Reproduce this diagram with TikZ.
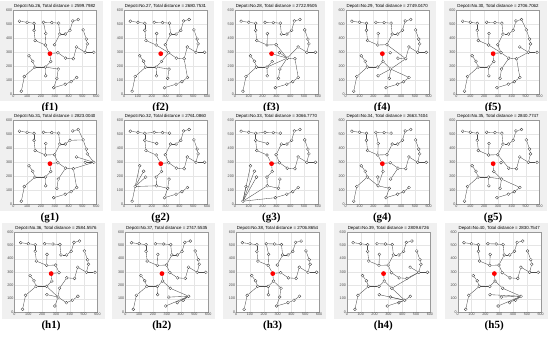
\documentclass[tikz,border=0pt]{standalone}
\usepackage{fontspec}
\setmainfont{Liberation Serif}
\setsansfont{Liberation Sans}

% customer positions (data units 0..600)
\newcommand{\custpts}{1/45/520,2/100/512,3/150/505,4/150/455,5/158/382,6/218/512,7/278/510,8/328/506,9/235/432,10/232/350,
 11/298/352,12/336/428,13/376/428,14/410/455,15/430/522,16/470/532,17/505/458,18/528/392,19/535/358,20/457/336,
 21/520/298,22/582/298,23/434/252,24/378/256,25/322/295,26/113/273,27/141/234,28/156/192,29/80/125,30/58/20,
 31/232/192,32/270/232,33/234/130,34/325/178,35/315/112,36/292/45,37/375/70,38/418/88,39/458/118}

\def\plotW{83}
\def\plotH{84}

% one panel: x, y of plot corner, depot no., distance, label, links
\newcommand{\plotpanel}[6]{%
  \begin{scope}[shift={(#1,#2)}]
    \fill[panelbg] (-13,-7) rectangle (\plotW+7,\plotH+9);
    \fill[white] (0,0) rectangle (\plotW,\plotH);
    \foreach \g in {1,...,5} {
      \draw[gridline] (\g*\plotW/6,0) -- ++(0,\plotH);
      \draw[gridline] (0,\g*\plotH/6) -- ++(\plotW,0);
    }
    \draw[axisbox] (0,0) rectangle (\plotW,\plotH);
    \foreach \t [count=\k from 0] in {0,100,...,600} {
      \node[ticklbl, below] at (\k*\plotW/6,0) {\t};
      \node[ticklbl, left] at (0,\k*\plotH/6) {\t};
    }
    \node[paneltitle] (title) at (\plotW/2,\plotH+4) {Depot=No.#3, Total distance = #4};
    \node[panellabel] (lbl) at (\plotW/2-5,-14) {(#5)};
    \pgfmathsetmacro\yu{\plotH/600}
    \begin{scope}[x=0.13833pt, y=\yu pt]
      \foreach \i/\px/\py in \custpts {\node[cust] (p\i) at (\px,\py) {};}
      \node[depot] (p0) at (265,288) {};
      \foreach \a/\b in {#6} {\draw[link] (p\a) -- (p\b);}
    \end{scope}
  \end{scope}}

\begin{document}
\begin{tikzpicture}[x=1pt, y=1pt,
  cust/.style={circle, draw=black!80, fill=white, line width=0.3pt, inner sep=0pt, minimum size=2.9pt},
  depot/.style={circle, fill=red, inner sep=0pt, minimum size=4.8pt},
  link/.style={draw=black!70, line width=0.35pt},
  gridline/.style={draw=black!10, line width=0.2pt},
  axisbox/.style={draw=black!40, line width=0.3pt},
  panelbg/.style={fill=black!6},
  ticklbl/.style={font=\fontsize{3.7}{4}\selectfont\sffamily, text=black!70, inner sep=0.8pt},
  paneltitle/.style={font=\fontsize{4.4}{5}\selectfont\sffamily, inner sep=0.5pt},
  panellabel/.style={font=\fontsize{11}{12}\selectfont\bfseries}]
\useasboundingbox (0,0) rectangle (550,337);

% row f
\plotpanel{13.3}{243}{26}{2599.7982}{f1}{1/2,2/3,3/4,4/5,5/10,6/9,9/10,10/0,6/7,7/8,8/12,12/11,12/13,13/14,14/15,15/16,0/25,25/24,24/23,23/20,20/21,21/22,21/19,19/18,18/17,0/32,32/31,31/28,28/27,27/26,28/29,29/30,31/33,31/34,34/35,35/36,36/37,37/38,38/39}
\plotpanel{124.1}{243}{27}{2680.7531}{f2}{1/2,2/3,3/4,4/5,5/10,10/25,9/10,6/7,7/8,8/12,12/11,11/25,12/13,13/14,14/15,15/16,25/24,24/23,23/20,20/21,21/22,21/19,19/18,18/17,23/39,39/38,38/37,37/36,25/32,32/31,31/33,31/34,34/35,31/28,28/27,27/26,28/29,29/30}
\plotpanel{234.9}{243}{28}{2722.9505}{f3}{1/2,2/3,3/4,4/5,5/10,9/10,10/11,11/24,6/7,7/8,8/12,12/13,13/14,14/15,15/16,24/0,24/31,31/28,28/27,27/26,28/29,29/30,31/33,24/34,34/35,24/20,20/21,21/22,21/19,19/18,18/17,24/23,23/39,39/38,38/37,37/36,32/31,25/24}
\plotpanel{345.7}{243}{29}{2749.0470}{f4}{1/2,2/3,3/4,4/5,5/10,9/10,10/11,11/12,11/23,6/7,7/8,8/12,12/13,13/14,14/15,15/16,23/20,20/21,21/22,21/19,19/18,18/17,23/24,23/34,0/32,32/34,34/33,34/39,39/38,38/37,37/36,32/31,31/28,28/27,27/26,28/29,29/30,35/34}
\plotpanel{456.5}{243}{30}{2706.7062}{f5}{1/2,2/3,3/4,4/5,5/10,9/10,10/25,6/7,7/8,8/12,12/13,13/14,14/15,15/16,16/17,17/18,18/19,19/21,21/22,20/21,21/23,23/24,24/25,25/0,25/11,11/12,0/32,32/31,31/28,28/27,27/26,28/29,29/30,31/33,24/34,34/35,23/39,39/38,38/37,37/36}

% row g
\plotpanel{13.3}{133}{31}{2823.0040}{g1}{1/2,2/3,3/4,4/5,5/10,9/10,10/11,11/12,11/25,6/7,7/8,8/12,12/13,13/14,14/17,15/16,16/17,17/18,18/19,19/22,20/22,21/22,23/22,25/24,24/23,23/39,39/38,38/37,37/36,0/32,32/31,31/28,28/27,27/26,28/29,29/30,31/33,24/34,34/35,0/25}
\plotpanel{124.1}{133}{32}{2761.0860}{g2}{1/2,2/3,3/6,6/7,7/8,3/4,4/9,4/5,5/10,10/0,0/25,25/11,11/12,12/13,13/14,14/15,15/16,25/24,24/23,23/20,20/21,21/22,21/19,19/18,18/17,0/32,32/31,31/33,33/29,29/26,29/27,29/28,29/30,33/35,35/34,35/36,36/37,37/38,38/39}
\plotpanel{234.9}{133}{33}{3066.7770}{g3}{1/2,2/3,3/6,6/7,7/8,3/4,4/9,4/5,5/10,10/0,0/25,25/11,11/12,12/13,13/14,14/15,15/16,25/24,24/23,23/20,20/21,21/22,21/19,19/18,18/17,0/32,32/31,31/33,33/35,35/34,30/29,30/26,30/27,30/28,30/33,30/36,36/37,37/38,38/39}
\plotpanel{345.7}{133}{34}{2663.7404}{g4}{1/2,2/3,3/4,4/5,5/10,6/9,9/10,10/11,11/12,6/7,7/8,12/13,13/14,14/15,15/16,10/0,0/25,25/24,34/24,24/23,23/20,20/21,21/22,21/19,19/18,18/17,0/32,32/33,33/28,28/27,27/26,28/29,29/30,33/35,35/36,36/37,37/38,38/39,31/33}
\plotpanel{456.5}{133}{35}{2840.7747}{g5}{1/2,2/3,3/4,4/5,5/10,9/10,10/11,6/7,7/8,8/12,11/12,12/13,13/14,14/15,15/16,11/24,24/23,23/20,20/21,21/22,21/19,19/18,18/17,0/32,32/34,34/31,31/28,28/27,27/26,28/29,29/30,34/39,39/38,38/37,37/36,31/33,34/35}

% row h
\def\plotH{80}
\plotpanel{14.5}{25}{36}{2584.5576}{h1}{1/2,2/3,3/4,4/5,5/10,9/10,10/11,11/25,6/7,7/8,8/12,12/13,13/14,14/15,15/16,25/0,0/32,32/31,31/28,28/27,27/26,28/29,29/30,35/33,35/34,34/24,24/23,23/20,20/21,21/22,21/19,19/18,18/17,35/37,37/38,38/39,35/36,31/35}
\plotpanel{125.3}{25}{37}{2747.5535}{h2}{1/2,2/3,3/4,4/5,5/10,9/10,10/11,6/7,7/8,8/12,11/12,12/13,13/14,14/15,15/16,11/25,25/24,24/23,23/20,20/21,21/22,21/19,19/18,18/17,0/32,32/31,31/28,28/27,27/26,28/29,29/30,31/33,32/34,34/39,39/35,39/36,39/37,39/38}
\plotpanel{236.1}{25}{38}{2706.8654}{h3}{1/2,2/3,3/4,4/5,5/10,6/9,9/10,10/0,6/7,7/8,8/12,12/11,12/13,13/14,14/15,15/16,0/25,25/24,24/23,23/20,20/21,21/22,21/19,19/18,18/17,0/32,32/31,31/28,28/27,27/26,28/29,29/30,31/33,32/34,34/35,35/36,36/37,37/38,38/39}
\plotpanel{346.9}{25}{39}{2809.6726}{h4}{1/2,2/3,3/4,4/5,5/10,9/10,10/11,6/7,7/8,8/12,11/12,12/13,13/14,14/15,15/16,11/25,25/24,24/23,23/21,20/21,21/22,21/19,19/18,18/17,0/32,32/31,31/28,28/27,27/26,28/29,29/30,32/34,34/21,34/38,38/33,38/35,38/36,38/37,38/39}
\plotpanel{457.7}{25}{40}{2830.7547}{h5}{1/2,2/3,3/4,4/5,5/10,9/10,10/11,6/7,7/8,8/12,11/12,12/13,13/14,14/15,15/16,11/25,25/24,24/23,23/20,20/21,21/22,21/19,19/18,18/17,0/32,32/31,31/28,28/27,27/26,28/29,29/30,32/34,34/39,39/33,39/35,39/36,39/37,39/38}

\end{tikzpicture}
\end{document}
